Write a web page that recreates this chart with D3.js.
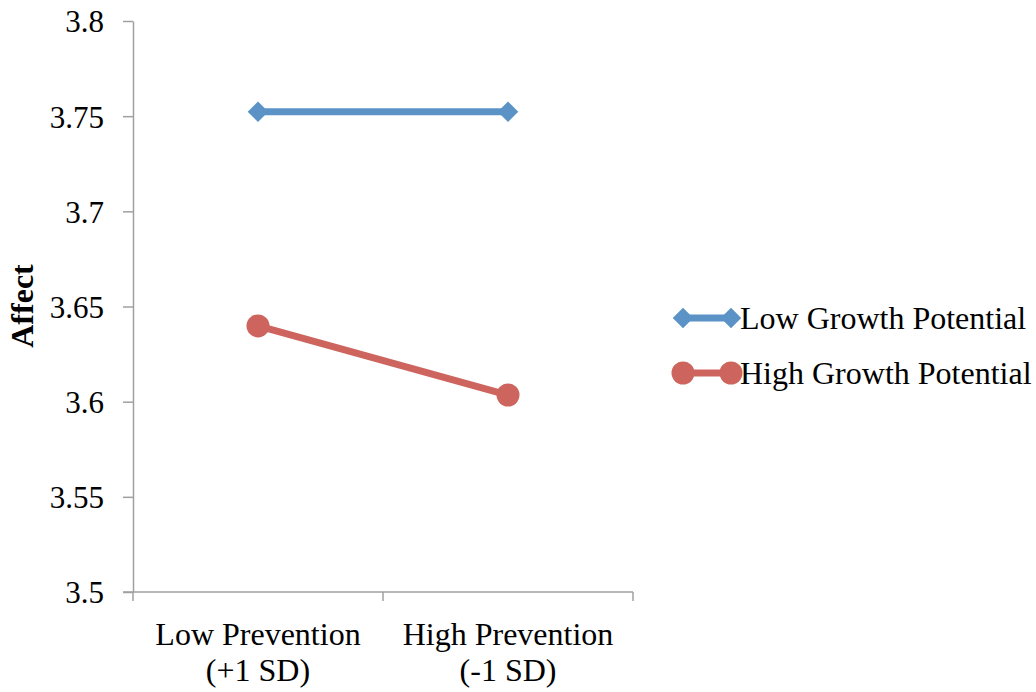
<!DOCTYPE html>
<html><head><meta charset="utf-8">
<script src="https://cdn.jsdelivr.net/npm/d3@7"></script>
<style>body{margin:0;background:#fff}svg{display:block}text{font-family:"Liberation Serif","Times New Roman",serif;fill:#000}</style>
</head><body>
<script>
const categories = [["Low Prevention","(+1 SD)"],["High Prevention","(-1 SD)"]];
const seriesNames = ["Low Growth Potential","High Growth Potential"];
const lowGrowth = [3.7523, 3.7523];
const highGrowth = [3.6398, 3.6035];
const yTicks = [3.5,3.55,3.6,3.65,3.7,3.75,3.8];
const yTickLabels = ["3.5","3.55","3.6","3.65","3.7","3.75","3.8"];
const colors = ["#5b93c7","#cd655e"];

const W=1036,H=692;
const svg=d3.select("body").append("svg").attr("width",W).attr("height",H);
const x0=133,x1=633,yTop=21,yBot=592;
const x=d3.scaleBand().domain([0,1]).range([x0,x1]).paddingInner(0).paddingOuter(0);
const y=d3.scaleLinear().domain([3.5,3.8]).range([yBot,yTop]);
const cx=i=>x(i)+x.bandwidth()/2;
const axisColor="#a0a0a0";
const fs="31px";

// y axis
const ya=svg.append("g").attr("transform",`translate(${x0},0)`)
 .call(d3.axisLeft(y).tickValues(yTicks).tickFormat((d,i)=>yTickLabels[i]).tickSize(10).tickSizeOuter(0).tickPadding(19));
ya.select(".domain").attr("stroke",axisColor).attr("stroke-width",1.5);
ya.selectAll(".tick line").attr("stroke",axisColor).attr("stroke-width",1.5);
ya.selectAll(".tick text").style("font-size",fs).style("font-family",'"Liberation Serif",serif').attr("fill","#000").attr("dy","0.35em");

// x axis
const xa=svg.append("g").attr("transform",`translate(0,${yBot})`);
xa.append("line").attr("x1",x0-10).attr("x2",x1).attr("y1",0).attr("y2",0).attr("stroke",axisColor).attr("stroke-width",1.5);
[x0, x(1), x1].forEach(v=>xa.append("line").attr("x1",v).attr("x2",v).attr("y1",0).attr("y2",9).attr("stroke",axisColor).attr("stroke-width",1.5));
categories.forEach((c,i)=>{
  const t=xa.append("text").attr("text-anchor","middle").style("font-size","32px");
  t.append("tspan").attr("x",cx(i)).attr("y",53).text(c[0]);
  t.append("tspan").attr("x",cx(i)).attr("y",89).text(c[1]);
});

// y title
svg.append("text").attr("transform","translate(33,306) rotate(-90)").attr("text-anchor","middle")
 .style("font-size","32px").style("font-weight","bold").text("Affect");

const line=d3.line().x((d,i)=>cx(i)).y(d=>y(d));
const diamond=d3.symbol().type(d3.symbolDiamond2).size(270);
// series 1
svg.append("path").datum(lowGrowth).attr("d",line).attr("fill","none").attr("stroke",colors[0]).attr("stroke-width",7);
svg.selectAll(".dm").data(lowGrowth).enter().append("path")
 .attr("transform",(d,i)=>`translate(${cx(i)},${y(d)})`).attr("d",diamond).attr("fill",colors[0]);
// series 2
svg.append("path").datum(highGrowth).attr("d",line).attr("fill","none").attr("stroke",colors[1]).attr("stroke-width",7);
svg.selectAll(".ci").data(highGrowth).enter().append("circle")
 .attr("cx",(d,i)=>cx(i)).attr("cy",d=>y(d)).attr("r",11.5).attr("fill",colors[1]);

// legend
const lg=svg.append("g");
[0,1].forEach(k=>{
  const ly=318+k*55;
  lg.append("line").attr("x1",683).attr("x2",731).attr("y1",ly).attr("y2",ly).attr("stroke",colors[k]).attr("stroke-width",7);
  [683,731].forEach(px=>{
    if(k===0) lg.append("path").attr("transform",`translate(${px},${ly})`).attr("d",diamond).attr("fill",colors[0]);
    else lg.append("circle").attr("cx",px).attr("cy",ly).attr("r",11.5).attr("fill",colors[1]);
  });
  lg.append("text").attr("x",740).attr("y",ly).attr("dy","0.35em").style("font-size","32px").text(seriesNames[k]);
});
</script>
</body></html>
